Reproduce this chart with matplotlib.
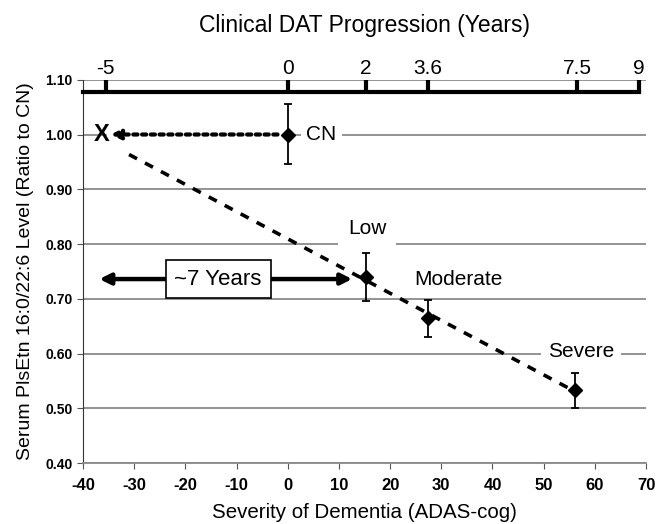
import matplotlib.pyplot as plt
import numpy as np

plt.rcParams['font.family'] = ['Liberation Sans', 'DejaVu Sans']

# ADAS-cog score vs serum PlsEtn ratio
groups = ['CN', 'Low', 'Moderate', 'Severe']
adas = [0.0, 15.3, 27.4, 56.2]
level = [1.000, 0.740, 0.664, 0.533]
err_lo = [0.054, 0.044, 0.034, 0.033]
err_hi = [0.056, 0.043, 0.034, 0.031]

# top axis: clinical progression years and where they sit on ADAS scale
years = ['-5', '0', '2', '3.6', '7.5', '9']
year_pos = [-35.6, 0.0, 15.3, 27.4, 56.5, 68.6]

fig = plt.figure(figsize=(6.57, 5.24), dpi=100)
ax = fig.add_axes([0.1263, 0.1164, 0.857, 0.7314])

ax.set_xlim(-40, 70)
ax.set_ylim(0.40, 1.10)
ax.set_yticks(np.arange(0.40, 1.101, 0.10))
ax.set_xticks(np.arange(-40, 71, 10))
ax.set_yticklabels(['%.2f' % v for v in np.arange(0.40, 1.101, 0.10)],
                   fontweight='bold', fontsize=10)
ax.set_xticklabels([str(v) for v in range(-40, 71, 10)],
                   fontweight='bold', fontsize=12,
                   family=['Liberation Sans Narrow', 'Liberation Sans'])
ax.grid(axis='y', color='#8a8a8a', lw=1.3)
ax.set_axisbelow(True)
for s in ['top', 'right']:
    ax.spines[s].set_visible(False)
ax.spines['bottom'].set_color('#8a8a8a')
ax.spines['bottom'].set_linewidth(1.3)
ax.spines['left'].set_color('#333333')
ax.tick_params(axis='both', colors='#555555', length=4, labelcolor='black')
ax.tick_params(axis='x', pad=7)

# regression through the dementia groups
k, b = np.polyfit(adas[1:], level[1:], 1)
xs = np.array([-31.0, 55.0])
ax.plot(xs, k * xs + b, color='black', lw=2.6, ls=(0, (2.5, 2.5)), zorder=3)

ax.errorbar(adas, level, yerr=[err_lo, err_hi], fmt='D', color='black',
            ms=7.5, capsize=3, elinewidth=1.3, capthick=1.3, zorder=4)

# extrapolated point, reached from CN by a dotted arrow
ax.text(-36.4, 1.0, 'X', fontsize=17, fontweight='bold', ha='center',
        va='center', zorder=5)
ax.plot([-35.0, adas[0]], [level[0], level[0]], color='white', lw=3, zorder=2.5)
ax.annotate('', xy=(-34.6, level[0]), xytext=(-2.0, level[0]),
            arrowprops=dict(arrowstyle='-|>', color='black', lw=3,
                            ls=(0, (1, 1.1)), mutation_scale=14,
                            shrinkA=0, shrinkB=0),
            zorder=5)

box = dict(facecolor='white', edgecolor='none', pad=4)
ax.text(3.6, 1.0, 'CN', fontsize=15, ha='left', va='center', bbox=box, zorder=2)
ax.text(15.5, 0.828, 'Low', fontsize=15, ha='center', va='center',
        bbox=dict(facecolor='white', edgecolor='none', pad=7), zorder=2)
ax.text(33.3, 0.735, 'Moderate', fontsize=15, ha='center', va='center', zorder=2)
ax.text(57.3, 0.604, 'Severe', fontsize=15, ha='center', va='center',
        bbox=dict(facecolor='white', edgecolor='none', pad=5), zorder=3.5)

# ~7 years arrow
ax.annotate('', xy=(-36.8, 0.736), xytext=(12.6, 0.736),
            arrowprops=dict(arrowstyle='<|-|>', color='black', lw=3.2,
                            mutation_scale=16, shrinkA=0, shrinkB=0),
            zorder=5)
ax.text(-13.6, 0.736, '~7 Years', fontsize=16, ha='center', va='center',
        bbox=dict(facecolor='white', edgecolor='black', lw=1.2,
                  boxstyle='square,pad=0.4'), zorder=6)

ax.set_xlabel('Severity of Dementia (ADAS-cog)', fontsize=14.8, labelpad=7)
ax.set_ylabel('Serum PlsEtn 16:0/22:6 Level (Ratio to CN)', fontsize=14,
              labelpad=8)

# top years axis
ax2 = ax.twiny()
ax2.set_xlim(ax.get_xlim())
ax2.set_xticks(year_pos)
ax2.set_xticklabels(years)
for s in ['left', 'right', 'bottom']:
    ax2.spines[s].set_visible(False)
ax2.spines['top'].set_position(('axes', 0.969))
ax2.spines['top'].set_linewidth(3)
ax2.spines['top'].set_bounds(-40, 68.6)
ax2.tick_params(axis='x', direction='out', length=9, width=3, pad=1,
                labelsize=15)
ax2.set_xlabel('Clinical DAT Progression (Years)', fontsize=16.5, labelpad=19)

fig.savefig('out.png', dpi=100)
